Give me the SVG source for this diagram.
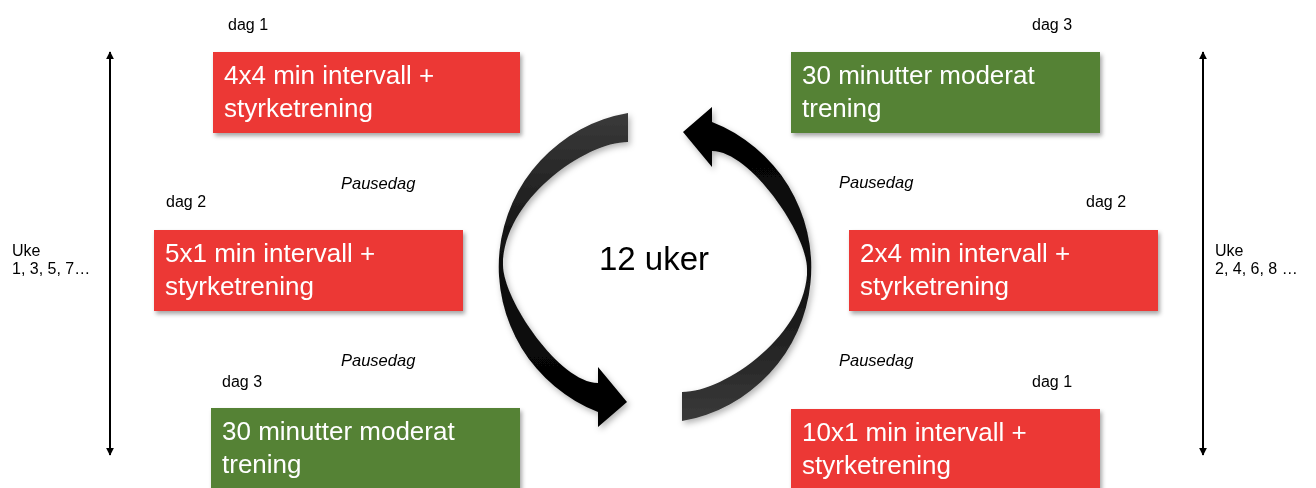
<svg xmlns="http://www.w3.org/2000/svg" width="1316" height="488" viewBox="0 0 1316 488">
<defs>
<filter id="sh" x="-5%" y="-10%" width="115%" height="130%">
<feDropShadow dx="2" dy="3" stdDeviation="2" flood-color="#000" flood-opacity="0.35"/>
</filter>
<filter id="ash" x="-10%" y="-10%" width="125%" height="125%">
<feDropShadow dx="2" dy="3" stdDeviation="3" flood-color="#000" flood-opacity="0.3"/>
</filter>
<linearGradient id="ag" x1="0" y1="0" x2="0" y2="1">
<stop offset="0" stop-color="#3a3a3a"/>
<stop offset="0.45" stop-color="#111"/>
<stop offset="1" stop-color="#000"/>
</linearGradient>
<marker id="ah" viewBox="0 0 10 10" refX="9" refY="5" markerWidth="8" markerHeight="8" markerUnits="userSpaceOnUse" orient="auto-start-reverse">
<path d="M0,0 L10,5 L0,10 Z" fill="#000"/>
</marker>
<path id="carrow" d="M628,113 A156,156 0 0 0 598,412 L598,427 L627,402 L598,367 L598,383 C560,383 503,300 503,265 C503,200 585,142 628,142 Z"/>
</defs>
<style>
.red{fill:#ec3936;filter:url(#sh)}
.green{fill:#548235;filter:url(#sh)}
.bt{font-family:"Liberation Sans",Arial,sans-serif;font-size:26px;fill:#fff}
.lb{font-family:"Liberation Sans",Arial,sans-serif;font-size:16px;fill:#000}
.it{font-family:"Liberation Sans",Arial,sans-serif;font-size:16.5px;font-style:italic;fill:#000}
.big{font-family:"Liberation Sans",Arial,sans-serif;font-size:33px;fill:#000}
</style>
<rect width="1316" height="488" fill="#fff"/>

<g id="connectors">
<line x1="110" y1="52" x2="110" y2="455" stroke="#000" stroke-width="2" marker-start="url(#ah)" marker-end="url(#ah)"/>
<line x1="1203" y1="52" x2="1203" y2="455" stroke="#000" stroke-width="2" marker-start="url(#ah)" marker-end="url(#ah)"/>
<g id="cycle" filter="url(#ash)">
<use href="#carrow" fill="url(#ag)"/>
<use href="#carrow" fill="url(#ag)" transform="rotate(180 655 267)"/>
</g>
</g>

<g id="center-label"><text class="big" x="654" y="270" text-anchor="middle">12 uker</text></g>

<g id="left-weeks">
<text class="lb" x="12" y="256">Uke</text>
<text class="lb" x="12" y="274">1, 3, 5, 7…</text>
</g>
<g id="right-weeks">
<text class="lb" x="1215" y="256">Uke</text>
<text class="lb" x="1215" y="274">2, 4, 6, 8 …</text>
</g>

<g id="l-dag1">
<text class="lb" x="228" y="30">dag 1</text>
<rect class="red" x="213" y="52" width="307" height="81"/>
<text class="bt" x="224" y="84">4x4 min intervall +</text>
<text class="bt" x="224" y="117">styrketrening</text>
</g>
<g id="l-pause1"><text class="it" x="341" y="189">Pausedag</text></g>
<g id="l-dag2">
<text class="lb" x="166" y="207">dag 2</text>
<rect class="red" x="154" y="230" width="309" height="81"/>
<text class="bt" x="165" y="262">5x1 min intervall +</text>
<text class="bt" x="165" y="295">styrketrening</text>
</g>
<g id="l-pause2"><text class="it" x="341" y="366">Pausedag</text></g>
<g id="l-dag3">
<text class="lb" x="222" y="387">dag 3</text>
<rect class="green" x="211" y="408" width="309" height="84"/>
<text class="bt" x="222" y="440">30 minutter moderat</text>
<text class="bt" x="222" y="473">trening</text>
</g>

<g id="r-dag3">
<text class="lb" x="1032" y="30">dag 3</text>
<rect class="green" x="791" y="52" width="309" height="81"/>
<text class="bt" x="802" y="84">30 minutter moderat</text>
<text class="bt" x="802" y="117">trening</text>
</g>
<g id="r-pause1"><text class="it" x="839" y="188">Pausedag</text></g>
<g id="r-dag2">
<text class="lb" x="1086" y="207">dag 2</text>
<rect class="red" x="849" y="230" width="309" height="81"/>
<text class="bt" x="860" y="262">2x4 min intervall +</text>
<text class="bt" x="860" y="295">styrketrening</text>
</g>
<g id="r-pause2"><text class="it" x="839" y="366">Pausedag</text></g>
<g id="r-dag1">
<text class="lb" x="1032" y="387">dag 1</text>
<rect class="red" x="791" y="409" width="309" height="84"/>
<text class="bt" x="802" y="441">10x1 min intervall +</text>
<text class="bt" x="802" y="474">styrketrening</text>
</g>
</svg>
